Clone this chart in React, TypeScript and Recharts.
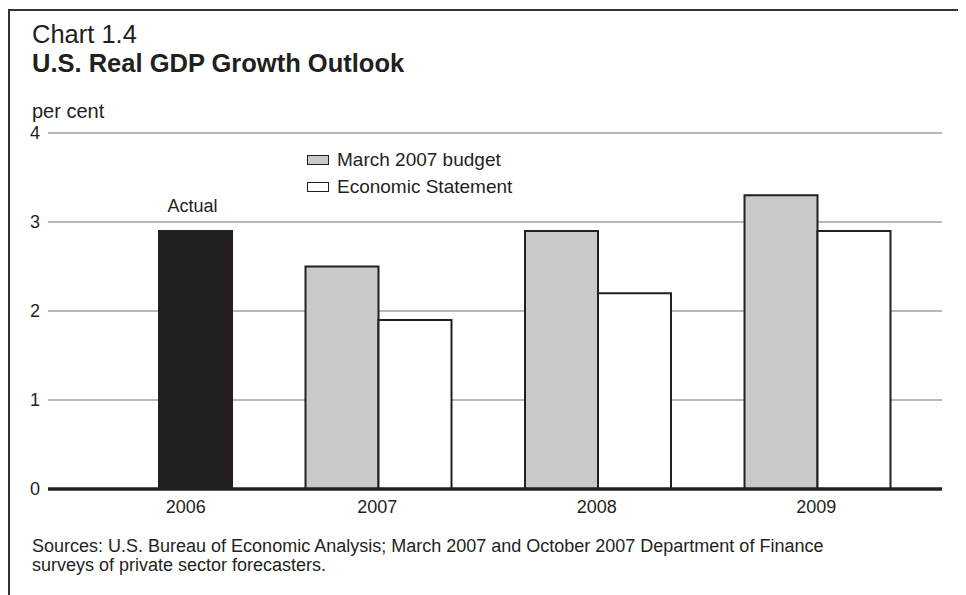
import React from 'react';
import { BarChart, Bar, XAxis, YAxis, CartesianGrid, Legend, LabelList } from 'recharts';

const years = ['2006', '2007', '2008', '2009'];
const actual = [2.9, null, null, null];
const marchBudget = [null, 2.5, 2.9, 3.3];
const economicStatement = [null, 1.9, 2.2, 2.9];
const yTicks = [0, 1, 2, 3, 4];
const seriesNames = ['March 2007 budget', 'Economic Statement'];
const actualLabel = 'Actual';

const data = years.map((year, i) => ({
  year,
  actual: actual[i],
  budget: marchBudget[i],
  statement: economicStatement[i],
}));

const font = "'Liberation Sans', Arial, Helvetica, sans-serif";
const ink = '#231f20';
const grey = '#c8c9cb';
const firstTickShift = 27;

const YearTick = (props: any) => {
  const { x, y, payload, index } = props;
  return (
    <text
      x={x + (index === 0 ? firstTickShift : -1)}
      y={y}
      dy="0.71em"
      textAnchor="middle"
      fill={ink}
      fontSize={18}
      fontFamily={font}
    >
      {payload.value}
    </text>
  );
};

const renderActual = (props: any) => {
  const { value } = props;
  if (value == null) return null;
  const vb = props.viewBox || props;
  return (
    <text
      x={vb.x + vb.width / 2 - 3}
      y={vb.y - 19}
      textAnchor="middle"
      fill={ink}
      fontSize={18}
      fontFamily={font}
    >
      {actualLabel}
    </text>
  );
};

const LegendBox = () => (
  <div style={{ fontFamily: font, fontSize: 19, color: ink }}>
    {seriesNames.map((name, i) => (
      <div key={name} style={{ display: 'flex', alignItems: 'center', height: 27 }}>
        <span
          style={{
            display: 'inline-block',
            width: 20,
            height: 8,
            border: `1.5px solid ${ink}`,
            background: i === 0 ? grey : '#fff',
            marginRight: 8,
          }}
        />
        <span>{name}</span>
      </div>
    ))}
  </div>
);

export default function App() {
  return (
    <div style={{ position: 'relative', width: 958, height: 587, fontFamily: font, color: ink }}>
      <div
        style={{
          position: 'absolute',
          left: 0,
          top: 1,
          width: 958,
          height: 600,
          borderLeft: '2px solid #333',
          borderTop: '2px solid #333',
          boxSizing: 'border-box',
        }}
      />
      <div style={{ position: 'absolute', left: 24, top: 14, fontSize: 25.5, lineHeight: 1 }}>Chart 1.4</div>
      <div style={{ position: 'absolute', left: 24, top: 43, fontSize: 25.5, lineHeight: 1, fontWeight: 'bold' }}>
        U.S. Real GDP Growth Outlook
      </div>
      <div style={{ position: 'absolute', left: 24, top: 93, fontSize: 20, lineHeight: 1 }}>per cent</div>
      <div style={{ position: 'absolute', left: 24, top: 529, fontSize: 18, lineHeight: '19px' }}>
        Sources: U.S. Bureau of Economic Analysis; March 2007 and October 2007 Department of Finance
        <br />
        surveys of private sector forecasters.
      </div>
      <div style={{ position: 'absolute', left: 0, top: 0 }}>
        <BarChart
          width={950}
          height={587}
          data={data}
          margin={{ top: 125, right: 16, bottom: 76, left: 0 }}
          barSize={73}
          barGap={0}
        >
          <CartesianGrid vertical={false} stroke="#a0a0a0" strokeWidth={1.5} />
          <XAxis
            dataKey="year"
            padding={{ left: 1, right: 15 }}
            tickLine={false}
            tickSize={6}
            tickMargin={5}
            height={30}
            axisLine={{ stroke: ink, strokeWidth: 3.5 }}
            tick={<YearTick />}
            interval={0}
          />
          <YAxis
            domain={[0, 4]}
            ticks={yTicks}
            width={40}
            axisLine={false}
            tickLine={false}
            tick={{ fill: ink, fontSize: 18, fontFamily: font }}
          />
          <Legend
            layout="horizontal"
            verticalAlign="middle"
            align="center"
            content={<LegendBox />}
            wrapperStyle={{ position: 'absolute', left: 299, top: 138, width: 'auto', height: 'auto' }}
          />
          <Bar dataKey="budget" name={seriesNames[0]} stackId="left" fill={grey} stroke={ink} strokeWidth={2} isAnimationActive={false} />
          <Bar dataKey="statement" name={seriesNames[1]} stackId="right" fill="#fff" stroke={ink} strokeWidth={2} isAnimationActive={false} />
          <Bar dataKey="actual" name={actualLabel} stackId="right" fill={ink} stroke={ink} strokeWidth={2} legendType="none" isAnimationActive={false}>
            <LabelList dataKey="actual" content={renderActual} />
          </Bar>
        </BarChart>
      </div>
    </div>
  );
}
